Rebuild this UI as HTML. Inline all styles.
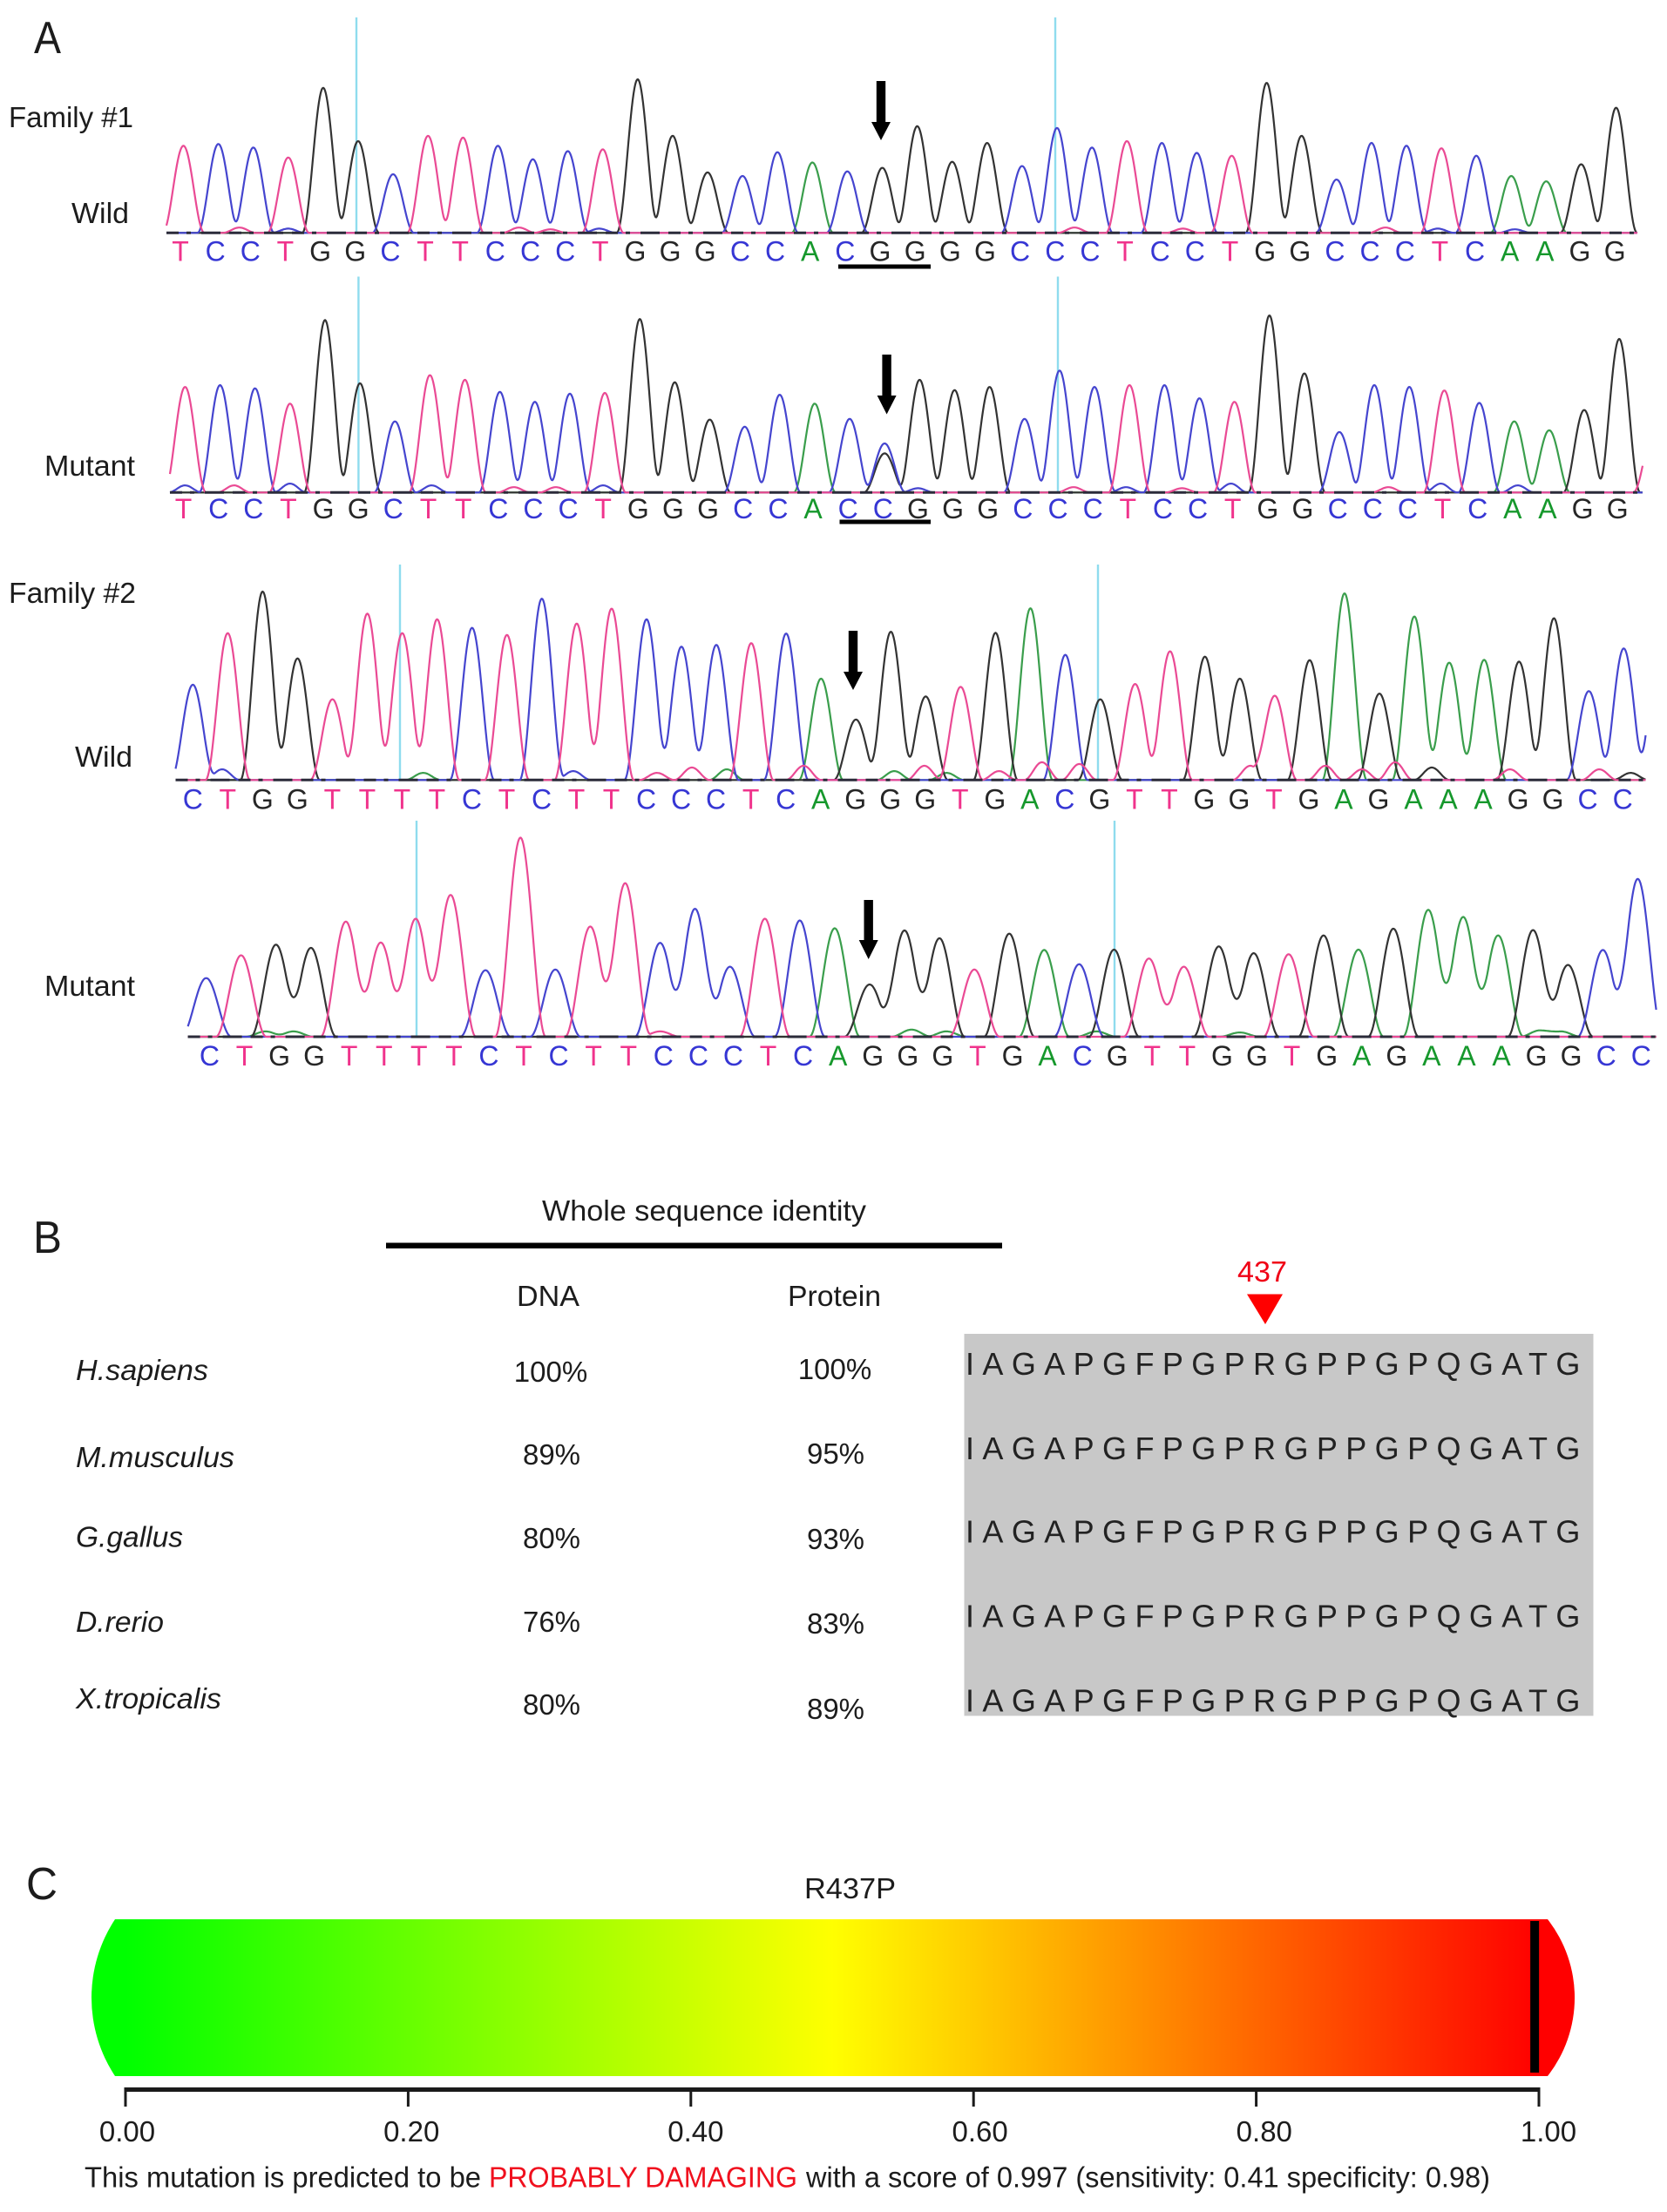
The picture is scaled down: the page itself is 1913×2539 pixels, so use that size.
<!DOCTYPE html>
<html lang="en">
<head>
<meta charset="utf-8">
<title>Sequencing chromatograms, conservation and PolyPhen score</title>
<style>
html,body{margin:0;padding:0;background:#fff;}
svg{display:block;}
text{font-family:"Liberation Sans",Arial,sans-serif;fill:#1c1c1c;}
.it{font-style:italic;}
.s33{font-size:33px;}
.res{font-size:36px;letter-spacing:9.4px;fill:#222;}
</style>
</head>
<body>
<svg id="fig" xmlns="http://www.w3.org/2000/svg" width="1913" height="2539" viewBox="0 0 1913 2539">
  <rect x="0" y="0" width="1913" height="2539" fill="#fff"/>

  <!-- Panel A -->
  <text x="39" y="61" font-size="52" textLength="31" lengthAdjust="spacingAndGlyphs">A</text>
  <g id="traces"></g>
  <text class="s33" x="10" y="146" textLength="143" lengthAdjust="spacingAndGlyphs">Family #1</text>
  <text class="s33" x="82" y="256" textLength="66" lengthAdjust="spacingAndGlyphs">Wild</text>
  <text class="s33" x="51" y="546" textLength="104" lengthAdjust="spacingAndGlyphs">Mutant</text>
  <text class="s33" x="10" y="692" textLength="146" lengthAdjust="spacingAndGlyphs">Family #2</text>
  <text class="s33" x="86" y="880" textLength="66" lengthAdjust="spacingAndGlyphs">Wild</text>
  <text class="s33" x="51" y="1143" textLength="104" lengthAdjust="spacingAndGlyphs">Mutant</text>

  <!-- Panel B -->
  <text x="38" y="1438" font-size="52" textLength="33" lengthAdjust="spacingAndGlyphs">B</text>
  <text class="s33" x="622" y="1401" textLength="372" lengthAdjust="spacingAndGlyphs">Whole sequence identity</text>
  <rect x="443" y="1426.5" width="707" height="6.5" fill="#000"/>
  <text class="s33" x="593" y="1499" textLength="72" lengthAdjust="spacingAndGlyphs">DNA</text>
  <text class="s33" x="904" y="1499" textLength="107" lengthAdjust="spacingAndGlyphs">Protein</text>

  <text class="s33 it" x="87" y="1584" textLength="152" lengthAdjust="spacingAndGlyphs">H.sapiens</text>
  <text class="s33 it" x="87" y="1684" textLength="182" lengthAdjust="spacingAndGlyphs">M.musculus</text>
  <text class="s33 it" x="87" y="1775.5" textLength="123" lengthAdjust="spacingAndGlyphs">G.gallus</text>
  <text class="s33 it" x="87" y="1873" textLength="101" lengthAdjust="spacingAndGlyphs">D.rerio</text>
  <text class="s33 it" x="87" y="1961" textLength="167" lengthAdjust="spacingAndGlyphs">X.tropicalis</text>

  <g text-anchor="middle">
    <text class="s33" x="632" y="1586">100%</text>
    <text class="s33" x="633" y="1681">89%</text>
    <text class="s33" x="633" y="1777">80%</text>
    <text class="s33" x="633" y="1873">76%</text>
    <text class="s33" x="633" y="1968">80%</text>
    <text class="s33" x="958" y="1583">100%</text>
    <text class="s33" x="959" y="1680">95%</text>
    <text class="s33" x="959" y="1778">93%</text>
    <text class="s33" x="959" y="1875">83%</text>
    <text class="s33" x="959" y="1973">89%</text>
  </g>

  <rect x="1106.5" y="1531" width="722" height="438.5" fill="#c8c8c8"/>
  <text class="res" x="1108" y="1578">IAGAPGFPGPRGPPGPQGATG</text>
  <text class="res" x="1108" y="1675">IAGAPGFPGPRGPPGPQGATG</text>
  <text class="res" x="1108" y="1770.5">IAGAPGFPGPRGPPGPQGATG</text>
  <text class="res" x="1108" y="1867.5">IAGAPGFPGPRGPPGPQGATG</text>
  <text class="res" x="1108" y="1964.5">IAGAPGFPGPRGPPGPQGATG</text>
  <text x="1420" y="1471" font-size="33" textLength="57" lengthAdjust="spacingAndGlyphs" style="fill:#f00016">437</text>
  <polygon points="1431,1485.5 1472,1485.5 1452,1520" fill="#ff0000"/>

  <!-- Panel C -->
  <text x="30" y="2180" font-size="52" textLength="36" lengthAdjust="spacingAndGlyphs">C</text>
  <text class="s33" x="923" y="2179" textLength="105" lengthAdjust="spacingAndGlyphs">R437P</text>
  <defs>
    <linearGradient id="scoreGrad" gradientUnits="userSpaceOnUse" x1="144" y1="0" x2="1766" y2="0">
      <stop offset="0" stop-color="#00ff00"/>
      <stop offset="0.5" stop-color="#ffff00"/>
      <stop offset="1" stop-color="#ff0000"/>
    </linearGradient>
  </defs>
  <path d="M132,2203 H1776 A146,146 0 0 1 1776,2383 H132 A163.5,163.5 0 0 1 132,2203 Z" fill="url(#scoreGrad)"/>
  <g id="scoreAxis"></g>
  <text class="s33" x="97" y="2510.5" textLength="455" lengthAdjust="spacingAndGlyphs">This mutation is predicted to be</text>
  <text class="s33" x="561" y="2510.5" textLength="354" lengthAdjust="spacingAndGlyphs" style="fill:#f0101e">PROBABLY DAMAGING</text>
  <text class="s33" x="925" y="2510.5" textLength="785" lengthAdjust="spacingAndGlyphs">with a score of 0.997 (sensitivity: 0.41 specificity: 0.98)</text>
</svg>

<script>
// ---- Chromatogram data: base calls and peak signal ----
const seqF1Wild   = "TCCTGGCTTCCCTGGGCCACGGGGCCCTCCTGGCCCTCAAGG";
const seqF1Mutant = "TCCTGGCTTCCCTGGGCCACCGGGCCCTCCTGGCCCTCAAGG";
const seqF2Wild   = "CTGGTTTTCTCTTCCCTCAGGGTGACGTTGGTGAGAAAGGCC";
const seqF2Mutant = "CTGGTTTTCTCTTCCCTCAGGGTGACGTTGGTGAGAAAGGCC";

const signalF1Wild = [245,250,240,212,408,258,165,273,268,245,207,230,235,432,273,170,160,227,198,173,183,300,200,253,188,295,240,258,253,225,217,422,273,150,253,245,238,217,160,145,193,352];
const signalF1Mutant = [297,302,293,250,485,307,200,330,317,283,255,278,280,488,310,205,185,275,250,207,138,317,288,297,207,343,297,302,302,265,255,498,335,170,302,297,287,252,200,175,232,432];
const signalF2Wild = [268,413,530,342,227,468,413,452,428,408,510,440,482,452,375,380,385,412,285,170,417,235,262,414,483,352,227,270,362,347,285,237,337,525,243,460,330,338,333,455,250,370];
const signalF2Mutant = [165,229,259,250,324,265,332,399,187,560,189,310,432,264,360,197,332,327,305,147,299,277,189,290,244,204,245,220,197,254,235,232,285,245,304,357,337,285,300,202,244,444];

// Secondary / background peaks: [base, base-call index, signal]
const minorF1Wild = [["T",1.6,15],["C",3,12],["T",9.6,15],["T",10.5,10],["C",11.9,12],["T",25.5,15],["T",28.6,12],["T",34.4,15],["C",35.9,12],["C",38.1,10]];
const minorF1Mutant = [["G",20,110],["T",42,180],["C",0,20],["T",1.4,20],["C",3,25],["C",7.05,20],["T",9.4,15],["T",10.6,15],["C",11.95,20],["C",20.95,12],["T",25.4,15],["C",26.9,15],["T",28.5,12],["C",29.9,25],["T",34.4,15],["C",35.9,25],["C",38.1,20]];
const minorF2Wild = [["C",42,340],["C",0.84,30],["A",6.6,20],["C",10.9,25],["T",13.3,20],["T",14.3,35],["A",15.3,30],["T",17.5,40],["A",20.1,25],["T",20.96,40],["A",21.6,20],["T",23.1,25],["T",24.33,50],["T",25.4,45],["T",30.3,40],["T",32.45,40],["T",33.5,30],["T",34.45,50],["G",35.5,35],["T",37.74,30],["T",40.3,30],["G",41.2,20]];
const minorF2Mutant = [["A",1.7,15],["A",2.5,15],["T",13,15],["A",20.2,20],["A",21.2,15],["A",25.5,15],["A",29.6,12],["A",38.2,18],["A",38.8,15]];

// Score panel data
const scoreTicks = [0, 0.2, 0.4, 0.6, 0.8, 1];
const scoreTickLabels = ["0.00","0.20","0.40","0.60","0.80","1.00"];
const predictedScore = [0.997];

// ---- Layout ----
const SVGNS = "http://www.w3.org/2000/svg";
const baseColor = {G:"#333333", A:"#3a9e4c", C:"#4545cf", T:"#ea4a94"};
const letterColor = {G:"#262626", A:"#16982c", C:"#3636d4", T:"#f0338c"};
const drawOrder = ["A","G","C","T"];
const yUnit = 1 / 2.45;

const panels = [
  {key:"family-1-wild", seq:seqF1Wild, signal:signalF1Wild, minor:minorF1Wild, base:267.3, x0:210.5, step:40.1, lx0:207, lstep:40.15, ly:299.5, clip:[191,1879], spread:24, cyan:[409,1211], cyanTop:20,
   arrow:{x:1011,top:93,neck:140,tip:161}, underline:{x1:962,x2:1068,y:306}},
  {key:"family-1-mutant", seq:seqF1Mutant, signal:signalF1Mutant, minor:minorF1Mutant, base:565.3, x0:212.4, step:40.14, lx0:210.5, lstep:40.14, ly:595, clip:[195,1885], spread:24, cyan:[411.4,1214], cyanTop:317.5,
   arrow:{x:1017.6,top:407,neck:454,tip:475.5}, underline:{x1:963.5,x2:1068,y:599}},
  {key:"family-2-wild", seq:seqF2Wild, signal:signalF2Wild, minor:minorF2Wild, base:895.3, x0:221.3, step:40.05, lx0:221.3, lstep:40.02, ly:928.5, clip:[201.5,1889], spread:25.5, cyan:[459,1260], cyanTop:648,
   arrow:{x:979,top:724,neck:771,tip:792}, underline:null},
  {key:"family-2-mutant", seq:seqF2Mutant, signal:signalF2Mutant, minor:minorF2Mutant, base:1190, x0:236.6, step:40.07, lx0:240.4, lstep:40.07, ly:1223, clip:[215.6,1901], spread:29, cyan:[478,1279], cyanTop:942,
   arrow:{x:996.7,top:1033,neck:1079,tip:1101}, underline:null}
];

function make(tag, parent, attrs) {
  const el = document.createElementNS(SVGNS, tag);
  for (const k in attrs) el.setAttribute(k, attrs[k]);
  parent.appendChild(el);
  return el;
}

// Raised-cosine peak shape: reaches zero at +/- halfWidth
function peakShape(d, halfWidth) {
  if (Math.abs(d) >= halfWidth) return 0;
  const c = Math.cos(Math.PI * d / (2 * halfWidth));
  return c * c;
}

const tracesRoot = document.getElementById("traces");

panels.forEach(function (p) {
  const g = make("g", tracesRoot, {});
  
  
  g.setAttribute('aria-label', p.key);

  const xAxis = function (i) { return p.x0 + i * p.step; };
  const yAxis = function (s) { return p.base - s * yUnit; };

  p.cyan.forEach(function (cx) {
    const line = make("line", g, {x1:cx, x2:cx, y1:p.cyanTop, y2:p.base, stroke:"#8fdcee", "stroke-width":2.4});
    
    
  });

  // gather peaks per channel
  const channels = {A:[],C:[],G:[],T:[]};
  for (let i = 0; i < p.signal.length; i++) {
    channels[p.seq[i]].push([i, p.signal[i]]);
  }
  p.minor.forEach(function (m) { channels[m[0]].push([m[1], m[2]]); });

  drawOrder.forEach(function (b) {
    let pts = [];
    for (let x = p.clip[0]; x <= p.clip[1]; x += 1) {
      let s = 0;
      channels[b].forEach(function (pk) {
        const w = pk[1] < 60 ? p.spread * 0.8 : p.spread;
        s += pk[1] * peakShape(x - xAxis(pk[0]), w);
      });
      pts.push(x + "," + yAxis(s).toFixed(1));
    }
    const line = make("polyline", g, {points:pts.join(" "), fill:"none", stroke:baseColor[b], "stroke-width":2.2, "stroke-linejoin":"round"});
    
    
  });

  const dash = make("line", g, {x1:p.clip[0], x2:p.clip[1], y1:p.base, y2:p.base, stroke:"#2b2b3a", "stroke-width":3, "stroke-dasharray":"14 9 5 12 22 10"});
  
  

  for (let i = 0; i < p.signal.length; i++) {
    const t = make("text", g, {x:p.lx0 + i * p.lstep, y:p.ly, "text-anchor":"middle", "font-size":32});
    t.style.fill = letterColor[p.seq[i]];
    t.textContent = p.seq[i];
    
    
  }

  const a = p.arrow;
  const arrow = make("polygon", g, {
    points: [[a.x-5.2,a.top],[a.x+5.2,a.top],[a.x+5.2,a.neck],[a.x+11,a.neck],[a.x,a.tip],[a.x-11,a.neck],[a.x-5.2,a.neck]].map(function(q){return q.join(",");}).join(" "),
    fill:"#000"
  });
  
  

  if (p.underline) {
    const u = make("rect", g, {x:p.underline.x1, y:p.underline.y - 2.5, width:p.underline.x2 - p.underline.x1, height:5, fill:"#000"});
    
    
  }
});

// ---- Score axis ----
const axisRoot = document.getElementById("scoreAxis");
const scoreX = function (v) { return 144 + v * 1622; };
const scoreLabelX = function (v) { return 146 + v * 1631; };

const marker = make("rect", axisRoot, {x:scoreX(predictedScore[0]) - 5, y:2205, width:10, height:174, fill:"#000"});



const axisLine = make("rect", axisRoot, {x:scoreX(0) - 1.5, y:2396, width:scoreX(1) - scoreX(0) + 3, height:5, fill:"#1a1a1a"});



scoreTicks.forEach(function (v, i) {
  const tick = make("rect", axisRoot, {x:scoreX(v) - 1.5, y:2396, width:3, height:22, fill:"#1a1a1a"});
  
  
  const lab = make("text", axisRoot, {x:scoreLabelX(v), y:2458, "text-anchor":"middle", "font-size":33});
  lab.textContent = scoreTickLabels[i];
  
  
});
</script>
</body>
</html>
